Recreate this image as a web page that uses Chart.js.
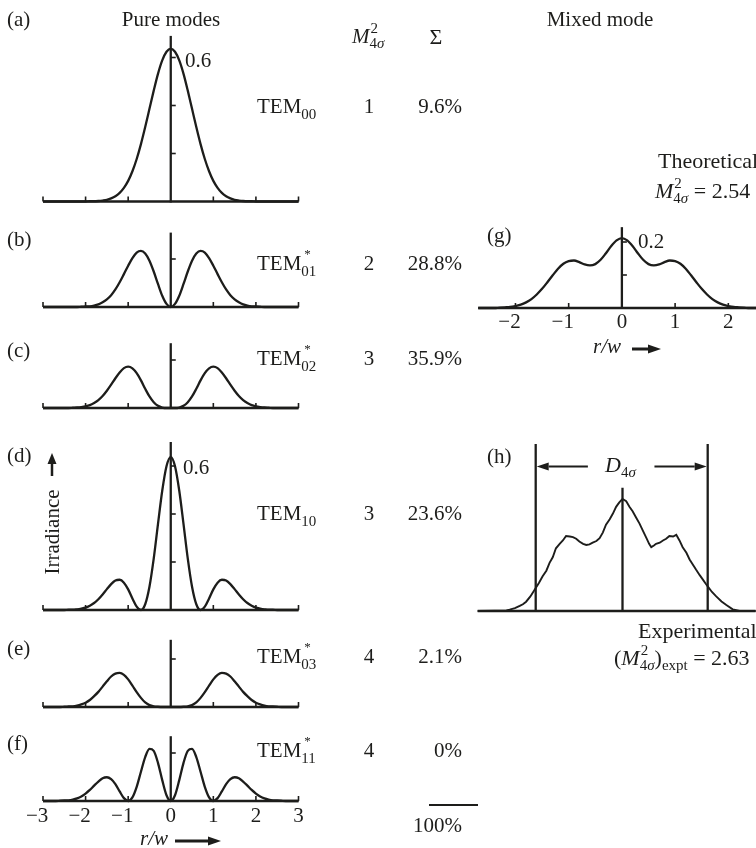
<!DOCTYPE html>
<html><head><meta charset="utf-8">
<script src="https://cdn.jsdelivr.net/npm/chart.js@4.4.1/dist/chart.umd.min.js"></script>
<style>
html,body{margin:0;padding:0;background:#fff;width:756px;height:848px;overflow:hidden;}
#wrap{position:relative;width:756px;height:848px;}
canvas{position:absolute;left:0;top:0;}
</style></head><body>
<div id="wrap"></div>
<script>
// ---------- data ----------
const rw = [-3,-2.9,-2.8,-2.7,-2.6,-2.5,-2.4,-2.3,-2.2,-2.1,-2,-1.9,-1.8,-1.7,-1.6,-1.5,-1.4,-1.3,-1.2,-1.1,-1,-0.9,-0.8,-0.7,-0.6,-0.5,-0.4,-0.3,-0.2,-0.1,0,0.1,0.2,0.3,0.4,0.5,0.6,0.7,0.8,0.9,1,1.1,1.2,1.3,1.4,1.5,1.6,1.7,1.8,1.9,2,2.1,2.2,2.3,2.4,2.5,2.6,2.7,2.8,2.9,3];
const tem00 = [0,0,0,0,0,0,0,0,0,0,0,0.001,0.001,0.002,0.004,0.007,0.013,0.022,0.036,0.057,0.086,0.126,0.177,0.239,0.310,0.386,0.462,0.532,0.588,0.624,0.637,0.624,0.588,0.532,0.462,0.386,0.310,0.239,0.177,0.126,0.086,0.057,0.036,0.022,0.013,0.007,0.004,0.002,0.001,0.001,0,0,0,0,0,0,0,0,0,0,0];
const tem01 = [0,0,0,0,0,0,0,0,0,0.001,0.002,0.003,0.006,0.011,0.020,0.032,0.049,0.073,0.103,0.137,0.172,0.204,0.227,0.234,0.223,0.193,0.148,0.096,0.047,0.013,0,0.013,0.047,0.096,0.148,0.193,0.223,0.234,0.227,0.204,0.172,0.137,0.103,0.073,0.049,0.032,0.020,0.011,0.006,0.003,0.002,0.001,0,0,0,0,0,0,0,0,0];
const tem02 = [0,0,0,0,0,0,0,0.001,0.002,0.004,0.007,0.012,0.021,0.033,0.050,0.072,0.097,0.124,0.148,0.166,0.172,0.165,0.145,0.115,0.080,0.048,0.024,0.009,0.002,0,0,0,0.002,0.009,0.024,0.048,0.080,0.115,0.145,0.165,0.172,0.166,0.148,0.124,0.097,0.072,0.050,0.033,0.021,0.012,0.007,0.004,0.002,0.001,0,0,0,0,0,0,0];
const tem10 = [0,0,0,0,0,0,0.001,0.001,0.003,0.006,0.010,0.018,0.029,0.045,0.065,0.087,0.108,0.123,0.126,0.114,0.086,0.048,0.014,0,0.024,0.097,0.214,0.358,0.497,0.599,0.637,0.599,0.497,0.358,0.214,0.097,0.024,0,0.014,0.048,0.086,0.114,0.126,0.123,0.108,0.087,0.065,0.045,0.029,0.018,0.010,0.006,0.003,0.001,0.001,0,0,0,0,0,0];
const tem03 = [0,0,0,0,0,0.001,0.002,0.003,0.006,0.011,0.018,0.029,0.045,0.063,0.085,0.107,0.127,0.139,0.142,0.134,0.115,0.089,0.062,0.038,0.019,0.008,0.003,0.001,0,0,0,0,0,0.001,0.003,0.008,0.019,0.038,0.062,0.089,0.115,0.134,0.142,0.139,0.127,0.107,0.085,0.063,0.045,0.029,0.018,0.011,0.006,0.003,0.002,0.001,0,0,0,0,0];
const tem11 = [0,0,0,0,0.001,0.002,0.003,0.006,0.011,0.019,0.031,0.046,0.064,0.081,0.095,0.099,0.091,0.070,0.040,0.012,0,0.015,0.059,0.122,0.183,0.217,0.209,0.159,0.087,0.024,0,0.024,0.087,0.159,0.209,0.217,0.183,0.122,0.059,0.015,0,0.012,0.040,0.070,0.091,0.099,0.095,0.081,0.064,0.046,0.031,0.019,0.011,0.006,0.003,0.002,0.001,0,0,0,0];

const gx = [-2.7,-2.6,-2.5,-2.4,-2.3,-2.2,-2.1,-2,-1.9,-1.8,-1.7,-1.6,-1.5,-1.4,-1.3,-1.2,-1.1,-1,-0.9,-0.8,-0.7,-0.6,-0.5,-0.4,-0.3,-0.2,-0.1,0,0.1,0.2,0.3,0.4,0.5,0.6,0.7,0.8,0.9,1,1.1,1.2,1.3,1.4,1.5,1.6,1.7,1.8,1.9,2,2.1,2.2,2.3,2.4,2.5,2.6];
const gy = [0,0,0,0,0.001,0.002,0.003,0.006,0.010,0.017,0.027,0.041,0.058,0.078,0.099,0.119,0.134,0.142,0.144,0.139,0.132,0.129,0.133,0.146,0.166,0.188,0.205,0.212,0.205,0.188,0.166,0.146,0.133,0.129,0.132,0.139,0.144,0.142,0.134,0.119,0.099,0.078,0.058,0.041,0.027,0.017,0.010,0.006,0.003,0.002,0.001,0,0,0];

const hx = [-2.72,-2.4,-2.18,-2.12,-2.02,-1.93,-1.87,-1.81,-1.73,-1.65,-1.57,-1.50,-1.43,-1.37,-1.31,-1.25,-1.18,-1.12,-1.06,-0.99,-0.93,-0.87,-0.81,-0.74,-0.68,-0.62,-0.56,-0.49,-0.43,-0.37,-0.31,-0.24,-0.18,-0.12,-0.06,0,0.07,0.13,0.19,0.26,0.32,0.38,0.45,0.50,0.54,0.59,0.63,0.70,0.76,0.82,0.88,0.95,1.01,1.07,1.13,1.20,1.26,1.32,1.38,1.45,1.51,1.56,1.60,1.68,1.76,1.86,1.95,2.07,2.20,2.50];
const hy = [0,0.002,0.005,0.012,0.025,0.045,0.060,0.083,0.130,0.190,0.250,0.310,0.360,0.430,0.480,0.560,0.600,0.630,0.670,0.665,0.660,0.645,0.620,0.600,0.590,0.595,0.610,0.625,0.650,0.700,0.770,0.820,0.870,0.930,0.970,1.000,0.980,0.930,0.890,0.830,0.780,0.720,0.650,0.600,0.570,0.585,0.600,0.610,0.630,0.645,0.670,0.665,0.680,0.630,0.570,0.520,0.460,0.415,0.370,0.320,0.280,0.245,0.220,0.170,0.130,0.085,0.054,0.015,0,0];
const hMarkX = [-1.63, 0, 1.60];
const hMarkTop = [1.49, 1.10, 1.49];
const hArrowLevel = 1.29;

const leftTicks = [-3,-2,-1,0,1,2,3];
const gTicks = [-2,-1,0,1,2];
const modeIdx = ['00','01','02','10','03','11'];
const modeStar = [false,true,true,false,true,true];
const m2Values = ['1','2','3','3','4','4'];
const powerShares = ['9.6%','28.8%','35.9%','23.6%','2.1%','0%'];
const powerTotal = '100%';
const panelLetters = ['(a)','(b)','(c)','(d)','(e)','(f)'];
const leftSeries = [tem00, tem01, tem02, tem10, tem03, tem11];
const leftAxisTop = [0.69, 0.31, 0.27, 0.70, 0.28, 0.27];
const leftYTicks = [[0.2,0.4,0.6],[0.2],[0.2],[0.2,0.4,0.6],[0.2],[0.2]];

// ---------- layout ----------
const W = 756, H = 848;
const INK = '#1d1d1b';
const FONT = '"Liberation Serif", "Times New Roman", serif';
const leftBase = [201.5, 307, 408, 610, 707, 801];
const leftPxPerUnit = 240;
const leftYMax = 0.7;
const rowBase = [113, 270, 365, 520, 663, 757];
const letterBase = [26, 246, 357, 462, 655, 750];
const LW = 2.3;

function fnt(size, italic){ return (italic ? 'italic ' : '') + size + 'px ' + FONT; }
function rich(ctx, x, y, parts){
  let cx = x;
  for (const p of parts){
    ctx.font = fnt(p.s || 21, p.i);
    ctx.fillText(p.t, cx + (p.dx || 0), y + (p.dy || 0));
    if (!p.stack) cx += ctx.measureText(p.t).width + (p.dx || 0);
  }
  return cx;
}
function arrow(ctx, x1, y1, x2, y2, lw, hl, hw){
  const a = Math.atan2(y2 - y1, x2 - x1);
  const bx = x2 - hl * Math.cos(a), by = y2 - hl * Math.sin(a);
  ctx.lineWidth = lw;
  ctx.beginPath(); ctx.moveTo(x1, y1); ctx.lineTo(bx, by); ctx.stroke();
  ctx.beginPath(); ctx.moveTo(x2, y2);
  ctx.lineTo(bx + hw * Math.sin(a), by - hw * Math.cos(a));
  ctx.lineTo(bx - hw * Math.sin(a), by + hw * Math.cos(a));
  ctx.closePath(); ctx.fill();
}

function makeAxes(cfg){
  return { id: 'axes', beforeDatasetsDraw(chart){
    const ctx = chart.ctx, xs = chart.scales.x, ys = chart.scales.y;
    const y0 = ys.getPixelForValue(0);
    ctx.save();
    ctx.strokeStyle = INK; ctx.fillStyle = INK; ctx.lineCap = 'butt';
    ctx.lineWidth = LW;
    ctx.beginPath(); ctx.moveTo(xs.getPixelForValue(cfg.xFrom), y0); ctx.lineTo(xs.getPixelForValue(cfg.xTo), y0); ctx.stroke();
    ctx.lineWidth = 1.6;
    for (const v of cfg.xTicks){
      const p = xs.getPixelForValue(v);
      ctx.beginPath(); ctx.moveTo(p, y0); ctx.lineTo(p, y0 - 5); ctx.stroke();
    }
    if (cfg.yTop != null){
      const p = xs.getPixelForValue(0);
      ctx.lineWidth = LW;
      ctx.beginPath(); ctx.moveTo(p, y0 + 1); ctx.lineTo(p, ys.getPixelForValue(cfg.yTop)); ctx.stroke();
      ctx.lineWidth = 1.6;
      for (const v of cfg.yTicks){
        const q = ys.getPixelForValue(v);
        ctx.beginPath(); ctx.moveTo(p, q); ctx.lineTo(p + 5, q); ctx.stroke();
      }
    }
    if (cfg.labels){
      ctx.font = fnt(21); ctx.textBaseline = 'alphabetic'; ctx.textAlign = 'right';
      for (const v of cfg.labels){
        const p = xs.getPixelForValue(v);
        const d = String(Math.abs(v));
        const w = ctx.measureText(d).width;
        ctx.fillText((v < 0 ? '\u2212' : '') + d, p + w / 2, y0 + cfg.labelDy);
      }
    }
    if (cfg.extra) cfg.extra(chart);
    ctx.restore();
  }};
}

const wrap = document.getElementById('wrap');
function addChart(datasets, area, scales, extraPlugins){
  const c = document.createElement('canvas');
  c.width = W; c.height = H; c.style.width = W + 'px'; c.style.height = H + 'px';
  wrap.appendChild(c);
  return new Chart(c.getContext('2d'), {
    type: 'line',
    data: { datasets },
    options: {
      responsive: false, animation: false, events: [], devicePixelRatio: 1,
      layout: { padding: { left: area.left, right: W - area.right, top: area.top, bottom: H - area.bottom } },
      scales: {
        x: { type: 'linear', min: scales.xMin, max: scales.xMax, display: false },
        y: { type: 'linear', min: 0, max: scales.yMax, display: false }
      },
      plugins: { legend: { display: false }, tooltip: { enabled: false }, title: { display: false } }
    },
    plugins: extraPlugins
  });
}
function curve(xs, ys, opts){
  return Object.assign({ data: xs.map((x, i) => ({ x, y: ys[i] })), borderColor: INK, borderWidth: LW,
    pointRadius: 0, fill: false, cubicInterpolationMode: 'monotone', clip: 4 }, opts || {});
}

// ---------- text drawn on top (global) ----------
const textPlugin = { id: 'texts', afterDraw(chart){
  const ctx = chart.ctx;
  ctx.save();
  ctx.fillStyle = INK; ctx.strokeStyle = INK; ctx.textBaseline = 'alphabetic';
  ctx.textAlign = 'left';
  ctx.font = fnt(21); ctx.textAlign = 'center';
  ctx.fillText('Pure modes', 171, 26);
  ctx.fillText('Mixed mode', 600, 26);
  ctx.font = fnt(22);
  ctx.fillText('\u03A3', 436, 44);
  ctx.textAlign = 'left';
  rich(ctx, 352, 43, [{t:'M', i:true}, {t:'2', s:15, dy:-10, dx:1, stack:true}, {t:'4', s:15, dy:5}, {t:'\u03C3', s:15, i:true, dy:5}]);
  ctx.font = fnt(21);
  panelLetters.forEach((l, k) => ctx.fillText(l, 7, letterBase[k]));
  ctx.fillText('(g)', 487, 242);
  ctx.fillText('(h)', 487, 463);
  ctx.fillText('0.6', 185, 67);
  ctx.fillText('0.6', 183, 474);
  ctx.fillText('0.2', 638, 248);
  for (let k = 0; k < 6; k++){
    const y = rowBase[k];
    const parts = [{t:'TEM'}];
    if (modeStar[k]) parts.push({t:'*', s:13, dy:-12, dx:3, stack:true});
    parts.push({t:modeIdx[k], s:15, dy:6});
    ctx.textAlign = 'left';
    rich(ctx, 257, y, parts);
    ctx.font = fnt(21);
    ctx.textAlign = 'center'; ctx.fillText(m2Values[k], 369, y);
    ctx.textAlign = 'right'; ctx.fillText(powerShares[k], 462, y);
  }
  ctx.lineWidth = 2;
  ctx.beginPath(); ctx.moveTo(429, 805); ctx.lineTo(478, 805); ctx.stroke();
  ctx.font = fnt(21); ctx.textAlign = 'right'; ctx.fillText(powerTotal, 462, 832);
  ctx.save(); ctx.translate(59, 532); ctx.rotate(-Math.PI / 2);
  ctx.textAlign = 'center'; ctx.font = fnt(21); ctx.fillText('Irradiance', 0, 0);
  ctx.restore();
  arrow(ctx, 52, 476, 52, 453, 2.5, 11, 4.5);
  ctx.textAlign = 'left';
  ctx.font = fnt(21, true); ctx.fillText('r/w', 140, 845);
  arrow(ctx, 175, 841, 221, 841, 3, 13, 4.5);
  ctx.font = fnt(21, true); ctx.fillText('r/w', 593, 353);
  arrow(ctx, 632, 349, 661, 349, 3, 13, 4.5);
  ctx.font = fnt(22); ctx.fillText('Theoretical', 658, 168);
  rich(ctx, 655, 198, [{t:'M', i:true, s:22}, {t:'2', s:15, dy:-10, dx:1, stack:true}, {t:'4', s:15, dy:5}, {t:'\u03C3', s:15, i:true, dy:5}, {t:' = 2.54', s:22}]);
  ctx.font = fnt(22); ctx.fillText('Experimental', 638, 638);
  rich(ctx, 614, 665, [{t:'(', s:22}, {t:'M', i:true, s:22}, {t:'2', s:15, dy:-10, dx:1, stack:true}, {t:'4', s:15, dy:5}, {t:'\u03C3', s:15, i:true, dy:5}, {t:')', s:22}, {t:'expt', s:15, dy:5}, {t:' = 2.63', s:22}]);
  ctx.restore();
}};

// ---------- left panels ----------
for (let k = 0; k < 6; k++){
  const base = leftBase[k];
  const area = { left: 43, right: 298.5, top: base - leftYMax * leftPxPerUnit, bottom: base };
  const plugins = [makeAxes({ xFrom: -3, xTo: 3, xTicks: [-3,-2,-1,1,2,3], yTop: leftAxisTop[k], yTicks: leftYTicks[k],
    labels: k === 5 ? leftTicks : null, labelDy: 21 })];
  if (k === 0) plugins.push(textPlugin);
  addChart([curve(rw, leftSeries[k])], area, { xMin: -3, xMax: 3, yMax: leftYMax }, plugins);
}

// ---------- (g) theoretical mixed mode ----------
addChart([curve(gx, gy)], { left: 478.2, right: 756, top: 308 - 0.25 * 330, bottom: 308 },
  { xMin: -2.7, xMax: 2.52, yMax: 0.25 },
  [makeAxes({ xFrom: -2.7, xTo: 2.52, xTicks: [-2,-1,1,2], yTop: 0.245, yTicks: [0.1, 0.2], labels: gTicks, labelDy: 20 })]);

// ---------- (h) experimental ----------
const hSets = [curve(hx, hy, { cubicInterpolationMode: 'default', tension: 0, borderWidth: 1.9 })];
hMarkX.forEach((x, i) => hSets.push(curve([x, x], [0, hMarkTop[i]], { cubicInterpolationMode: 'default', tension: 0 })));
addChart(hSets, { left: 622.5 - 2.72 * 53.25, right: 622.5 + 2.5 * 53.25, top: 611 - 1.5 * 112, bottom: 611 },
  { xMin: -2.72, xMax: 2.5, yMax: 1.5 },
  [makeAxes({ xFrom: -2.72, xTo: 2.5, xTicks: [], yTop: null, yTicks: [], labels: null,
    extra(chart){
      const ctx = chart.ctx, xs = chart.scales.x, ys = chart.scales.y;
      const ya = ys.getPixelForValue(hArrowLevel);
      ctx.fillStyle = INK; ctx.strokeStyle = INK;
      arrow(ctx, xs.getPixelForValue(-0.65), ya, xs.getPixelForValue(hMarkX[0]) + 1, ya, 2, 12, 4);
      arrow(ctx, xs.getPixelForValue(0.6), ya, xs.getPixelForValue(hMarkX[2]) - 1, ya, 2, 12, 4);
      ctx.textAlign = 'left'; ctx.textBaseline = 'alphabetic';
      rich(ctx, 605, 472, [{t:'D', i:true, s:22}, {t:'4', s:15, dy:5}, {t:'\u03C3', s:15, i:true, dy:5}]);
    } })]);
</script>
</body></html>
